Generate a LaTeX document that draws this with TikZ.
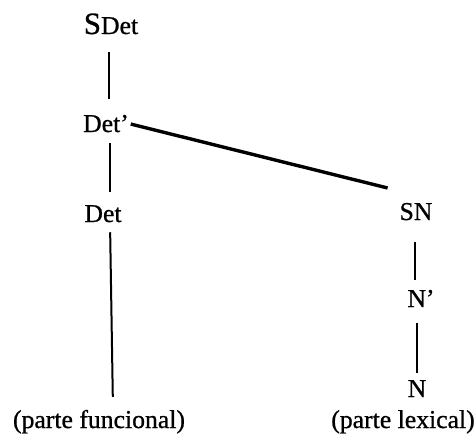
\documentclass[tikz,border=0pt]{standalone}
\usepackage{fontspec}
\setmainfont{Liberation Serif}
\newfontfamily\tfont[FakeBold=0.8]{Liberation Serif}
\begin{document}
\begin{tikzpicture}[x=1pt,y=-1pt,
  lbl/.style={inner sep=0pt,outer sep=0pt,anchor=base,font=\tfont\fontsize{25.7}{28}\selectfont},
  edge/.style={line width=2pt},
  diag/.style={line width=3.4pt}]
\useasboundingbox (0,0) rectangle (476,436);
\node[lbl] (sdet) at (111,34) {{\fontsize{31}{32}\selectfont S}Det};
\node[lbl] (detp) at (106,132) {Det’};
\node[lbl] (det) at (103,222) {Det};
\node[lbl] (func) at (99,428) {(parte funcional)};
\node[lbl] (sn) at (416,220) {SN};
\node[lbl] (np) at (421,307) {N’};
\node[lbl] (n) at (417,397) {N};
\node[lbl] (lex) at (403,428) {(parte lexical)};
\draw[edge,shorten <=18pt,shorten >=16pt] ([xshift=-2pt]sdet.south) -- ([xshift=3pt]detp.north);
\draw[edge,shorten <=11pt,shorten >=13pt] ([xshift=4pt]detp.south) -- ([xshift=7pt]det.north);
\draw[edge,shorten <=10pt,shorten >=13pt] ([xshift=7pt]det.south) -- ([xshift=14pt]func.north);
\draw[diag,shorten <=2pt] (detp.east) -- ([xshift=-12pt,yshift=15pt]sn.north west);
\draw[edge,shorten <=22pt,shorten >=10pt] ([xshift=-1pt]sn.south) -- ([xshift=-6pt]np.north);
\draw[edge,shorten <=16pt,shorten >=7pt] ([xshift=-4pt]np.south) -- (n.north);
\end{tikzpicture}
\end{document}
